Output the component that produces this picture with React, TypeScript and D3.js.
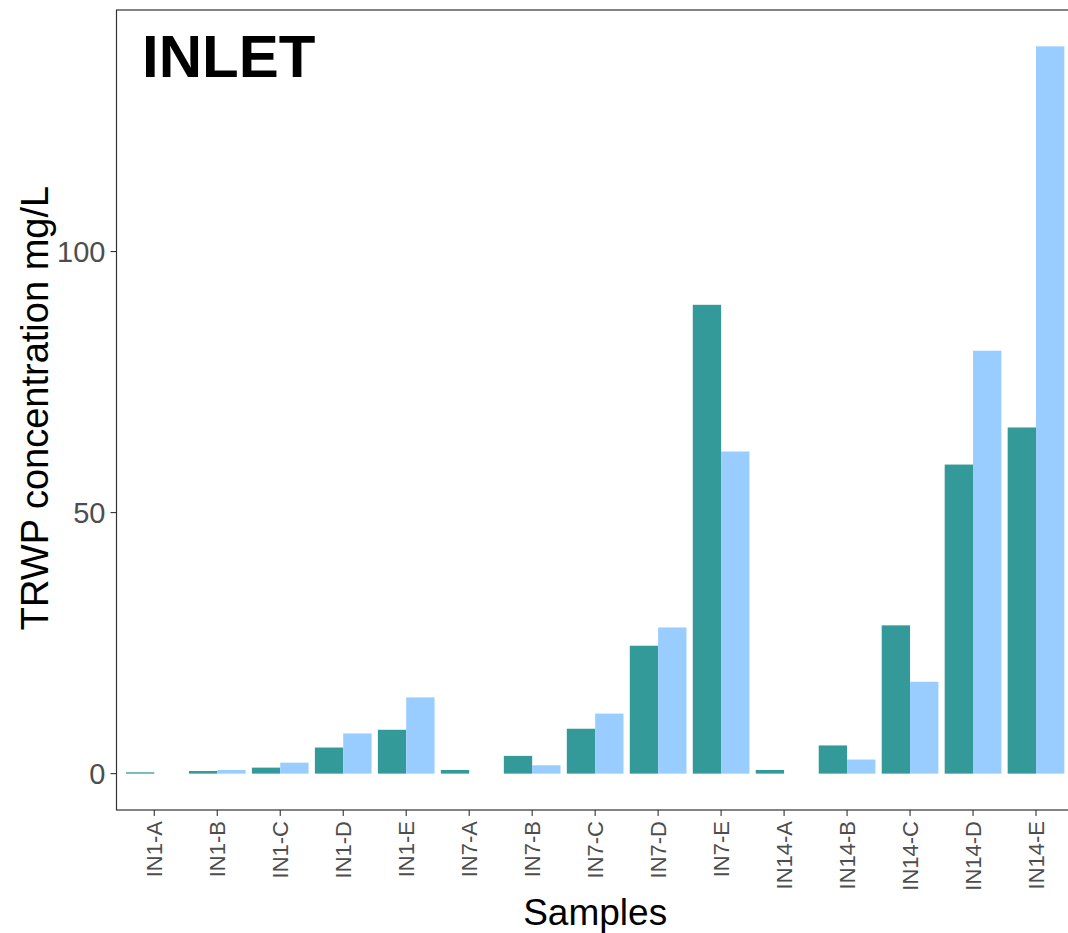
import React from 'react';
import * as d3 from 'd3';

const SAMPLES = [
  'IN1-A', 'IN1-B', 'IN1-C', 'IN1-D', 'IN1-E',
  'IN7-A', 'IN7-B', 'IN7-C', 'IN7-D', 'IN7-E',
  'IN14-A', 'IN14-B', 'IN14-C', 'IN14-D', 'IN14-E',
];
// dark teal series
const SERIES_1 = [0.25, 0.5, 1.15, 5.0, 8.4, 0.7, 3.4, 8.6, 24.5, 89.8, 0.7, 5.4, 28.4, 59.2, 66.3];
// light blue series (no bar for the -A samples)
const SERIES_2: (number | null)[] = [null, 0.7, 2.1, 7.7, 14.6, null, 1.6, 11.5, 28.0, 61.7, null, 2.7, 17.6, 81.0, 139.3];
const Y_TICKS = [0, 50, 100];

const COLORS = ['#339999', '#99ccff'];

const W = 1068;
const H = 933;
const panel = { left: 116.5, top: 10, right: 1073.8, bottom: 810 };

export default function App() {
  const yMax = d3.max([...SERIES_1, ...(SERIES_2.filter(v => v != null) as number[])]) as number;
  const pad = yMax * 0.05;

  const x = d3.scalePoint<string>()
    .domain(SAMPLES)
    .range([panel.left, panel.right])
    .padding(0.6);
  const step = x.step();
  const groupW = step * 0.9;
  const barW = groupW / 2;

  const y = d3.scaleLinear()
    .domain([-pad, yMax + pad])
    .range([panel.bottom, panel.top]);

  const series = [SERIES_1, SERIES_2];

  return (
    <svg width={W} height={H} style={{ position: 'absolute', left: 0, top: 0 }}
      fontFamily="Liberation Sans, Arial, sans-serif">
      <rect x={0} y={0} width={W} height={H} fill="white" />

      {/* bars */}
      {series.map((vals, si) =>
        vals.map((v, i) => {
          if (v == null) return null;
          const cx = x(SAMPLES[i]) as number;
          const x0 = cx - groupW / 2 + si * barW;
          return (
            <rect key={`${si}-${i}`} x={x0} y={y(v)} width={barW}
              height={y(0) - y(v)} fill={COLORS[si]} />
          );
        })
      )}

      {/* panel border */}
      <rect x={panel.left} y={panel.top} width={panel.right - panel.left}
        height={panel.bottom - panel.top} fill="none" stroke="#333333" strokeWidth={1.2} />

      {/* y axis */}
      {Y_TICKS.map(t => (
        <g key={t}>
          <line x1={panel.left - 6} x2={panel.left} y1={y(t)} y2={y(t)} stroke="#333333" strokeWidth={1.1} />
          <text x={panel.left - 11} y={y(t)} dy="0.36em" textAnchor="end" fontSize={29} fill="#4d4d4d">{t}</text>
        </g>
      ))}

      {/* x axis */}
      {SAMPLES.map(s => {
        const cx = x(s) as number;
        return (
          <g key={s}>
            <line x1={cx} x2={cx} y1={panel.bottom} y2={panel.bottom + 6} stroke="#333333" strokeWidth={1.1} />
            <text transform={`translate(${cx},${panel.bottom + 11}) rotate(-90)`}
              dy="0.36em" textAnchor="end" fontSize={22} fill="#4d4d4d">{s}</text>
          </g>
        );
      })}

      {/* titles */}
      <text x={(panel.left + panel.right) / 2} y={925} textAnchor="middle" fontSize={37} fill="black">Samples</text>
      <text transform={`translate(48,${(panel.top + panel.bottom) / 2 - 2}) rotate(-90)`}
        textAnchor="middle" fontSize={38} fill="black">TRWP concentration mg/L</text>
      <text x={142} y={77} fontSize={60} fontWeight="bold" fill="black">INLET</text>
    </svg>
  );
}
